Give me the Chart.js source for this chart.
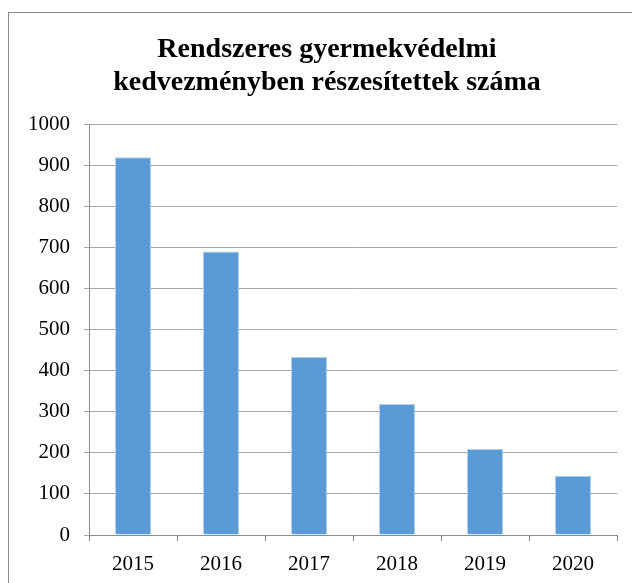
<!DOCTYPE html>
<html>
<head>
<meta charset="utf-8">
<script src="https://cdn.jsdelivr.net/npm/chart.js@4"></script>
<style>
  body { margin: 0; background: #fff; }
  #wrap { position: relative; width: 632px; height: 583px; overflow: hidden; }
  #frame { position: absolute; left: 8px; top: 12px; width: 700px; height: 700px; border: 1px solid #8c8c8c; }
  canvas { position: absolute; left: 0; top: 0; }
</style>
</head>
<body>
<div id="wrap">
  <div id="frame"></div>
  <canvas id="myChart" width="632" height="583"></canvas>
</div>
<script>
// data
const years = ['2015', '2016', '2017', '2018', '2019', '2020'];
const recipients = [919, 690, 433, 319, 209, 144];
const titleLines = ['Rendszeres gyermekvédelmi', 'kedvezményben részesítettek száma'];

const serif = '"Liberation Serif", "Times New Roman", serif';

// the original title sits a bit right of the canvas centre
const shiftTitle = {
    id: 'shiftTitle',
    afterLayout(chart) {
        if (chart.titleBlock) chart.titleBlock.left += 37;
    }
};

const ctx = document.getElementById('myChart').getContext('2d');
const chart = new Chart(ctx, {
    type: 'bar',
    data: {
        labels: years,
        datasets: [{
            data: recipients,
            backgroundColor: '#5b9bd5',
            borderColor: '#b4d0ee',
            borderWidth: 1,
            categoryPercentage: 1,
            barPercentage: 0.41
        }]
    },
    options: {
        responsive: false,
        animation: false,
        layout: { padding: { top: 14, right: 15, left: 0, bottom: 0 } },
        plugins: {
            legend: { display: false },
            tooltip: { enabled: false },
            title: {
                display: true,
                text: titleLines,
                color: '#000',
                font: { family: serif, size: 28, weight: 'bold', lineHeight: 1.18 },
                padding: { top: 19, bottom: 25 }
            }
        },
        scales: {
            x: {
                afterFit: (s) => { s.height = 48; },
                grid: { display: true, drawOnChartArea: false, tickLength: 6, color: '#8c8c8c', offset: true },
                border: { color: '#8c8c8c' },
                ticks: { color: '#000', font: { family: serif, size: 21 }, padding: 11 }
            },
            y: {
                min: 0,
                max: 1000,
                afterFit: (s) => { s.width = 89; },
                grid: { color: '#a6a6a6', tickLength: 5 },
                border: { color: '#8c8c8c' },
                ticks: {
                    stepSize: 100,
                    color: '#000',
                    font: { family: serif, size: 21 },
                    padding: 14,
                    callback: (v) => String(v)
                }
            }
        }
    },
    plugins: [shiftTitle]
});
</script>
</body>
</html>
